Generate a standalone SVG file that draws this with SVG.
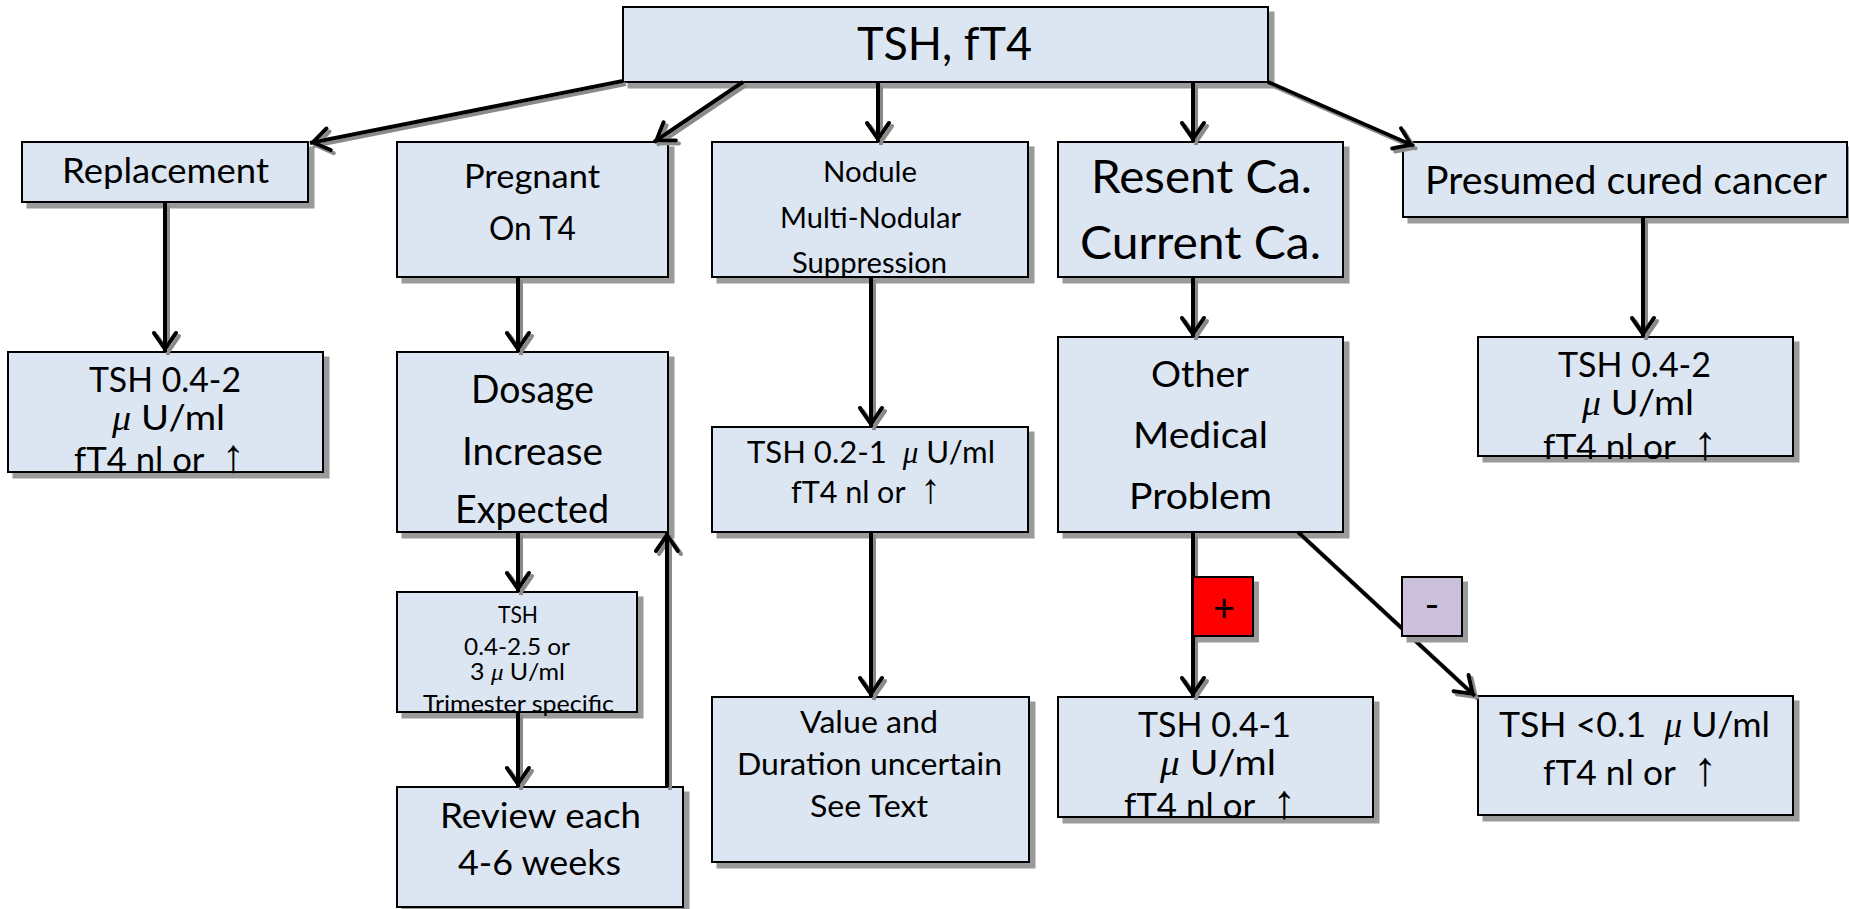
<svg xmlns="http://www.w3.org/2000/svg" width="1849" height="909" viewBox="0 0 1849 909">
<style>
.box{fill:#dce6f2;stroke:#000;stroke-width:2;filter:url(#bs)}
.t{font-family:Lato,'Liberation Sans',sans-serif;fill:#000}
.mu{font-family:'Liberation Serif',serif;font-style:italic}
.ar{font-family:'Liberation Sans',sans-serif;font-size:135%}
.c{fill:none;stroke:#000;stroke-width:4;marker-end:url(#ah)}
</style>
<defs>
<filter id="bs" x="-5%" y="-5%" width="115%" height="125%"><feDropShadow dx="5.5" dy="5.5" stdDeviation="0" flood-color="#9a9a9a" flood-opacity="1"/></filter>
<filter id="cs" x="-5%" y="-5%" width="115%" height="115%"><feDropShadow dx="3" dy="3" stdDeviation="0.6" flood-color="#8a8a8a" flood-opacity="1"/></filter>
<marker id="ah" markerUnits="userSpaceOnUse" viewBox="-24 -14 28 28" markerWidth="28" markerHeight="28" refX="0" refY="0" orient="auto" overflow="visible">
<path d="M-19,-11 L-3,0 L-19,11" fill="none" stroke="#000" stroke-width="4" stroke-linejoin="miter" stroke-linecap="round"/>
</marker>
</defs>
<rect width="1849" height="909" fill="#fff"/>

<g id="n-top"><rect class="box" x="623" y="7" width="645" height="75"/>
<text class="t" x="857" y="60" font-size="47" textLength="175" lengthAdjust="spacingAndGlyphs">TSH, fT4</text></g>

<g id="n-replacement"><rect class="box" x="22" y="142" width="286" height="60"/>
<text class="t" x="62" y="183" font-size="35" textLength="207" lengthAdjust="spacingAndGlyphs">Replacement</text></g>

<g id="n-pregnant"><rect class="box" x="397" y="142" width="271" height="135"/>
<text class="t" x="464" y="188" font-size="33" textLength="136" lengthAdjust="spacingAndGlyphs">Pregnant</text>
<text class="t" x="489" y="240" font-size="33" textLength="87" lengthAdjust="spacingAndGlyphs">On T4</text></g>

<g id="n-nodule"><rect class="box" x="712" y="142" width="316" height="135"/>
<text class="t" x="823" y="182" font-size="28.5" textLength="94" lengthAdjust="spacingAndGlyphs">Nodule</text>
<text class="t" x="780" y="228" font-size="28.5" textLength="181" lengthAdjust="spacingAndGlyphs">Multi-Nodular</text>
<text class="t" x="792" y="273" font-size="28.5" textLength="155" lengthAdjust="spacingAndGlyphs">Suppression</text></g>

<g id="n-cancer"><rect class="box" x="1058" y="142" width="285" height="135"/>
<text class="t" x="1091" y="193" font-size="47" textLength="221" lengthAdjust="spacingAndGlyphs">Resent Ca.</text>
<text class="t" x="1080" y="259" font-size="47" textLength="241" lengthAdjust="spacingAndGlyphs">Current Ca.</text></g>

<g id="n-presumed"><rect class="box" x="1403" y="142" width="444" height="75"/>
<text class="t" x="1425" y="194" font-size="38" textLength="402" lengthAdjust="spacingAndGlyphs">Presumed cured cancer</text></g>

<g id="n-tsh-replacement"><rect class="box" x="8" y="352" width="315" height="120"/>
<text class="t" x="89" y="392" font-size="35" textLength="152" lengthAdjust="spacingAndGlyphs">TSH 0.4-2</text>
<text class="t" x="112" y="430" font-size="35" textLength="113" lengthAdjust="spacingAndGlyphs" xml:space="preserve"><tspan class="mu">μ</tspan> U/ml</text>
<text class="t" x="74" y="472" font-size="35" textLength="171" lengthAdjust="spacingAndGlyphs" xml:space="preserve">fT4 nl or  <tspan class="ar">↑</tspan></text></g>

<g id="n-dosage"><rect class="box" x="397" y="352" width="271" height="180"/>
<text class="t" x="471" y="403" font-size="38" textLength="123" lengthAdjust="spacingAndGlyphs">Dosage</text>
<text class="t" x="462" y="465" font-size="38" textLength="141" lengthAdjust="spacingAndGlyphs">Increase</text>
<text class="t" x="455" y="523" font-size="38" textLength="154" lengthAdjust="spacingAndGlyphs">Expected</text></g>

<g id="n-trimester"><rect class="box" x="397" y="592" width="240" height="120"/>
<text class="t" x="498" y="623" font-size="24" textLength="40" lengthAdjust="spacingAndGlyphs">TSH</text>
<text class="t" x="464" y="655" font-size="24" textLength="106" lengthAdjust="spacingAndGlyphs">0.4-2.5 or</text>
<text class="t" x="470" y="680" font-size="24" textLength="95" lengthAdjust="spacingAndGlyphs" xml:space="preserve">3 <tspan class="mu">μ</tspan> U/ml</text>
<text class="t" x="423" y="712" font-size="24" textLength="191" lengthAdjust="spacingAndGlyphs">Trimester specific</text></g>

<g id="n-review"><rect class="box" x="397" y="787" width="286" height="120"/>
<text class="t" x="440" y="828" font-size="35.6" textLength="201" lengthAdjust="spacingAndGlyphs">Review each</text>
<text class="t" x="458" y="875" font-size="35.6" textLength="163" lengthAdjust="spacingAndGlyphs">4-6 weeks</text></g>

<g id="n-tsh-nodule"><rect class="box" x="712" y="427" width="316" height="105"/>
<text class="t" x="747" y="463" font-size="31" textLength="248" lengthAdjust="spacingAndGlyphs" xml:space="preserve">TSH 0.2-1  <tspan class="mu">μ</tspan> U/ml</text>
<text class="t" x="791" y="503" font-size="31" textLength="150" lengthAdjust="spacingAndGlyphs" xml:space="preserve">fT4 nl or  <tspan class="ar">↑</tspan></text></g>

<g id="n-value"><rect class="box" x="712" y="697" width="317" height="165"/>
<text class="t" x="800" y="733" font-size="31" textLength="138" lengthAdjust="spacingAndGlyphs">Value and</text>
<text class="t" x="737" y="775" font-size="31" textLength="265" lengthAdjust="spacingAndGlyphs">Duration uncertain</text>
<text class="t" x="810" y="817" font-size="31" textLength="118" lengthAdjust="spacingAndGlyphs">See Text</text></g>

<g id="n-other"><rect class="box" x="1058" y="337" width="285" height="195"/>
<text class="t" x="1151" y="387" font-size="37.5" textLength="98" lengthAdjust="spacingAndGlyphs">Other</text>
<text class="t" x="1133" y="448" font-size="37.5" textLength="135" lengthAdjust="spacingAndGlyphs">Medical</text>
<text class="t" x="1129" y="509" font-size="37.5" textLength="143" lengthAdjust="spacingAndGlyphs">Problem</text></g>

<g id="n-tsh-plus"><rect class="box" x="1058" y="697" width="315" height="120"/>
<text class="t" x="1138" y="737" font-size="35.6" textLength="153" lengthAdjust="spacingAndGlyphs">TSH 0.4-1</text>
<text class="t" x="1160" y="775" font-size="35.6" textLength="116" lengthAdjust="spacingAndGlyphs" xml:space="preserve"><tspan class="mu">μ</tspan> U/ml</text>
<text class="t" x="1124" y="818" font-size="35.6" textLength="172" lengthAdjust="spacingAndGlyphs" xml:space="preserve">fT4 nl or  <tspan class="ar">↑</tspan></text></g>

<g id="n-tsh-presumed"><rect class="box" x="1478" y="337" width="315" height="119"/>
<text class="t" x="1558" y="377" font-size="35.6" textLength="153" lengthAdjust="spacingAndGlyphs">TSH 0.4-2</text>
<text class="t" x="1582" y="415" font-size="35.6" textLength="112" lengthAdjust="spacingAndGlyphs" xml:space="preserve"><tspan class="mu">μ</tspan> U/ml</text>
<text class="t" x="1543" y="459" font-size="35.6" textLength="174" lengthAdjust="spacingAndGlyphs" xml:space="preserve">fT4 nl or  <tspan class="ar">↑</tspan></text></g>

<g id="n-tsh-minus"><rect class="box" x="1478" y="696" width="315" height="119"/>
<text class="t" x="1499" y="737" font-size="35.6" textLength="271" lengthAdjust="spacingAndGlyphs" xml:space="preserve">TSH &lt;0.1  <tspan class="mu">μ</tspan> U/ml</text>
<text class="t" x="1543" y="785" font-size="35.6" textLength="174" lengthAdjust="spacingAndGlyphs" xml:space="preserve">fT4 nl or  <tspan class="ar">↑</tspan></text></g>

<g id="connectors" filter="url(#cs)">
<path class="c" d="M623,81 L310,143"/>
<path class="c" d="M743,82 L654,142"/>
<path class="c" d="M878,82 L878,142"/>
<path class="c" d="M1193,82 L1193,142"/>
<path class="c" d="M1268,82 L1414,146"/>
<path class="c" d="M165,202 L165,352"/>
<path class="c" d="M518,277 L518,352"/>
<path class="c" d="M518,532 L518,592"/>
<path class="c" d="M518,712 L518,787"/>
<path class="c" d="M667,787 L667,532"/>
<path class="c" d="M871,277 L871,427"/>
<path class="c" d="M871,532 L871,697"/>
<path class="c" d="M1193,277 L1193,337"/>
<path class="c" d="M1193,532 L1193,697"/>
<path class="c" d="M1298,532 L1475,696"/>
<path class="c" d="M1643,217 L1643,337"/>
</g>

<g id="label-plus"><rect class="box" x="1193" y="577" width="60" height="59" style="fill:#ff0000"/>
<text class="t" x="1224" y="621" font-size="38" text-anchor="middle">+</text></g>
<g id="label-minus"><rect class="box" x="1402" y="577" width="60" height="59" style="fill:#ccc1da"/>
<text class="t" x="1432" y="619" font-size="40" text-anchor="middle">-</text></g>
</svg>
